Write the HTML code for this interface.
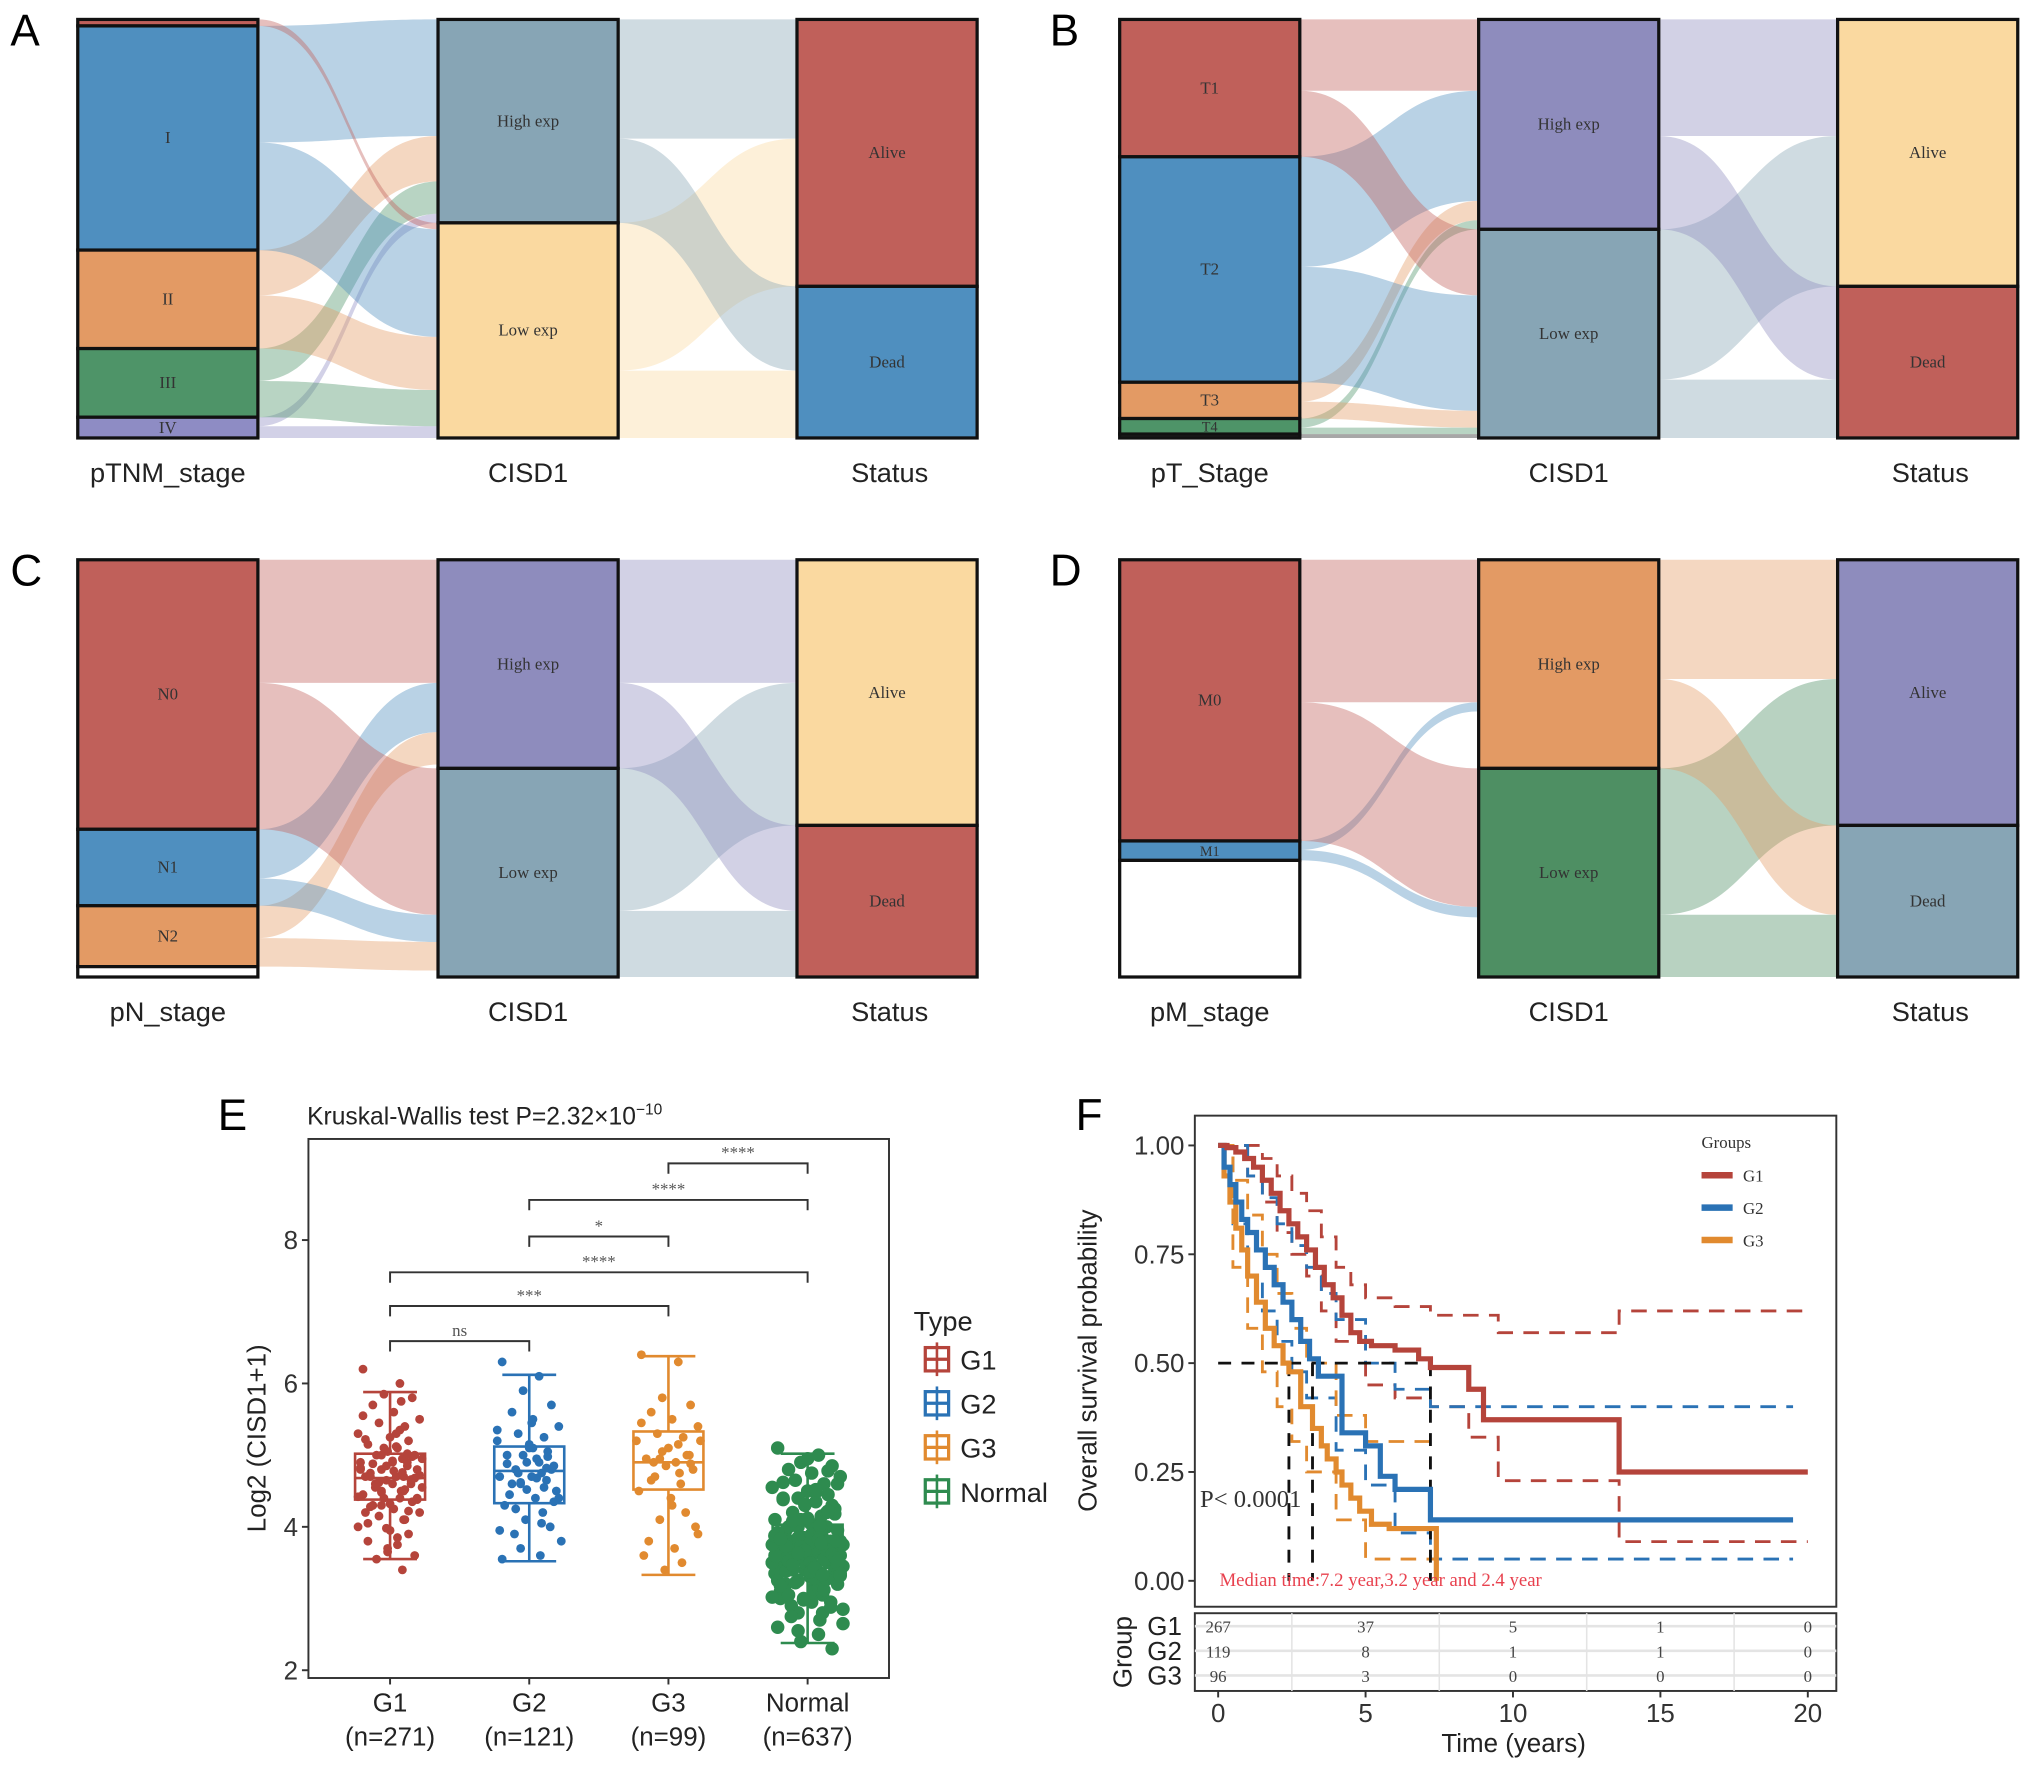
<!DOCTYPE html>
<html><head><meta charset="utf-8">
<style>
html,body{margin:0;padding:0;background:#fff;}
svg{display:block;}
text{font-family:"Liberation Sans",sans-serif;}
.serif{font-family:"Liberation Serif",serif;}
</style></head>
<body>
<svg id="fig" width="2032" height="1770" viewBox="0 0 1568 1366" preserveAspectRatio="none" xmlns="http://www.w3.org/2000/svg">
<rect x="0" y="0" width="1568" height="1366" fill="#fff"/>
</svg>
<script>
// ---------------- Alluvial data ----------------
const alluvA_col1 = ['', 'I', 'II', 'III', 'IV'];
const alluvA_col1Colors = ['#c0605a', '#4f8fbf', '#e39a64', '#4e9468', '#8e8cc4'];
const alluvA_flow1 = [[0,5],[90,83],[35,41],[25,28],[7,9]];
const alluvA_col2Colors = ['#87a5b5', '#fad9a0'];
const alluvA_flow2 = [[92,65],[114,52]];
const alluvA_col3Colors = ['#c0605a', '#4f8fbf'];

const alluvB_col1 = ['T1', 'T2', 'T3', 'T4', ''];
const alluvB_col1Colors = ['#c0605a', '#4f8fbf', '#e39a64', '#4e9468', '#222222'];
const alluvB_flow1 = [[55,51],[85,89],[15,13],[7,5],[0,3]];
const alluvB_col2Colors = ['#8e8cbd', '#87a5b5'];
const alluvB_flow2 = [[90,72],[116,45]];
const alluvB_col3Colors = ['#fad9a0', '#c0605a'];

const alluvC_col1 = ['N0', 'N1', 'N2', ''];
const alluvC_col1Colors = ['#c0605a', '#4f8fbf', '#e39a64', '#ffffff'];
const alluvC_flow1 = [[95,113],[38,21],[25,22],[3,5]];
const alluvC_col2Colors = ['#8e8cbd', '#87a5b5'];
const alluvC_flow2 = [[95,66],[110,51]];
const alluvC_col3Colors = ['#fad9a0', '#c0605a'];

const alluvD_col1 = ['M0', 'M1', ''];
const alluvD_col1Colors = ['#c0605a', '#4f8fbf', '#ffffff'];
const alluvD_flow1 = [[110,107],[7,8],[44,46]];
const alluvD_col2Colors = ['#e39a64', '#4e8f63'];
const alluvD_flow2 = [[92,69],[113,48]];
const alluvD_col3Colors = ['#8e8cbd', '#87a5b5'];

const col2Names = ['High exp', 'Low exp'];
const col3Names = ['Alive', 'Dead'];

// ---------------- Boxplot data (panel E) ----------------
const boxGroups = ['G1', 'G2', 'G3', 'Normal'];
const boxCounts = ['(n=271)', '(n=121)', '(n=99)', '(n=637)'];
const boxLow = [3.55, 3.52, 3.33, 2.38];
const boxQ1 = [4.38, 4.33, 4.52, 3.33];
const boxMed = [4.68, 4.78, 4.90, 3.60];
const boxQ3 = [5.02, 5.12, 5.33, 4.03];
const boxHigh = [5.88, 6.12, 6.38, 5.02];
const ptsG1 = [6.2,6.0,5.85,5.8,5.7,5.6,5.5,5.45,5.4,5.3,5.25,5.2,5.15,5.1,5.05,5.0,5.0,4.95,4.9,4.9,4.85,4.8,4.8,4.75,4.7,4.7,4.7,4.65,4.6,4.6,4.55,4.5,4.5,4.45,4.4,4.4,4.35,4.3,4.25,4.2,4.15,4.1,4.0,3.95,3.9,3.8,3.75,3.7,3.6,3.55,3.4,4.8,4.6,4.9,5.0,4.4,4.7,5.3,4.2,4.5,4.85,4.65,4.55,4.95,4.3,5.75,5.55,5.35,5.1,4.98,4.88,4.78,4.72,4.62,4.52,4.42,4.32,4.22,4.05,3.85,3.65,4.68,4.58,4.76,4.82,4.92,5.02,4.48,4.38,4.28,5.12,5.22,4.1,3.98,4.66];
const ptsG2 = [6.3,6.1,5.9,5.7,5.6,5.5,5.4,5.3,5.25,5.2,5.1,5.05,5.0,4.95,4.9,4.85,4.8,4.75,4.7,4.7,4.65,4.6,4.5,4.45,4.4,4.3,4.2,4.1,4.0,3.9,3.8,3.7,3.6,3.55,4.9,5.0,4.8,4.6,5.1,4.4,4.75,4.55,5.35,5.15,4.98,4.88,4.68,4.52,4.35,4.25,4.05,3.95,5.45,4.82,4.62];
const ptsG3 = [6.4,6.3,5.8,5.7,5.6,5.5,5.4,5.3,5.25,5.2,5.1,5.0,4.95,4.9,4.85,4.8,4.7,4.6,4.5,4.4,4.2,4.1,4.0,3.8,3.7,3.6,3.5,3.4,5.0,4.9,5.2,4.95,4.75,5.45,5.15,5.05,4.88,4.65,4.3,3.9];
const ptsNormal = [5.1,5.0,4.9,4.85,4.8,4.75,4.7,4.65,4.6,4.55,4.5,4.45,4.4,4.35,4.3,4.25,4.2,4.15,4.1,4.05,4.0,4.0,3.95,3.95,3.9,3.9,3.85,3.85,3.8,3.8,3.75,3.75,3.7,3.7,3.7,3.65,3.65,3.6,3.6,3.6,3.55,3.55,3.5,3.5,3.5,3.45,3.45,3.4,3.4,3.4,3.35,3.35,3.3,3.3,3.25,3.2,3.2,3.15,3.1,3.05,3.0,2.95,2.9,2.85,2.8,2.7,2.6,2.5,2.4,2.3,4.0,3.9,3.8,3.7,3.6,3.5,3.4,3.3,3.6,3.7,3.5,3.8,3.4,3.9,3.6,3.5,4.2,4.4,4.6,3.2,3.1,3.0,2.8,3.65,3.55,3.75,3.45,3.85,3.95,3.25,3.15,4.1,4.3,3.05,2.95,3.35,3.65,3.55,3.75,4.95,4.78,4.62,4.48,4.32,4.18,4.08,3.98,3.88,3.78,3.68,3.58,3.48,3.38,3.28,3.18,3.08,2.98,2.88,2.75,2.65,2.55,4.02,3.92,3.82,3.72,3.62,3.52,3.42,3.32,3.22,3.12,3.02,4.12,4.22,4.38,4.52,3.67,3.57,3.47,3.77,3.87,3.37,3.27,3.63,3.53,3.73,3.43,3.83,3.33];
const boxYTicks = [2, 4, 6, 8];
const sigPairs = [[0,1],[0,2],[0,3],[1,2],[1,3],[2,3]];
const sigLabels = ['ns','***','****','*','****','****'];
const sigLevels = [6.59, 7.08, 7.55, 8.05, 8.56, 9.07];

// ---------------- KM data (panel F) ----------------
const kmG1T = [0,0.3,0.6,0.9,1.2,1.5,1.8,2.1,2.4,2.7,3.0,3.3,3.6,3.9,4.2,4.5,4.8,5.2,6,6.8,7.2,8.5,9,13.6,20];
const kmG1S = [1,0.995,0.985,0.97,0.95,0.92,0.89,0.85,0.82,0.79,0.76,0.72,0.68,0.65,0.61,0.57,0.55,0.54,0.53,0.51,0.49,0.44,0.37,0.25,0.25];
const kmG2T = [0,0.2,0.4,0.6,0.8,1,1.3,1.6,1.9,2.2,2.5,2.8,3.1,3.4,4.2,5,5.5,6,7.2,19.5];
const kmG2S = [1,0.95,0.91,0.87,0.83,0.80,0.76,0.72,0.68,0.64,0.60,0.55,0.51,0.47,0.34,0.31,0.24,0.21,0.14,0.14];
const kmG3T = [0,0.2,0.4,0.6,0.8,1,1.3,1.6,1.9,2.2,2.4,2.8,3.2,3.5,3.7,4.0,4.2,4.5,4.8,5.2,5.8,7.2,7.4];
const kmG3S = [1,0.93,0.87,0.81,0.76,0.70,0.64,0.58,0.54,0.50,0.48,0.40,0.35,0.31,0.28,0.25,0.22,0.19,0.16,0.13,0.12,0.12,0.0];
const ciG1UpT = [0,1,1.5,2,2.5,3,3.5,4,4.5,5,6,7.2,9.5,13.6,20];
const ciG1UpS = [1,1,0.97,0.93,0.89,0.85,0.79,0.72,0.68,0.65,0.63,0.61,0.57,0.62,0.62];
const ciG1LoT = [0,1,1.5,2,2.5,3,3.5,4,5,6,7.2,8.5,9.5,13.6,20];
const ciG1LoS = [1,0.93,0.87,0.80,0.75,0.70,0.62,0.55,0.45,0.42,0.40,0.33,0.23,0.09,0.09];
const ciG2UpT = [0,1,1.5,2,2.5,3,3.5,4,5,6,7.2,19.5];
const ciG2UpS = [1,0.93,0.88,0.82,0.77,0.72,0.66,0.60,0.50,0.44,0.40,0.40];
const ciG2LoT = [0,0.5,1,1.5,2,2.5,3,4,5,6,7.2,19.5];
const ciG2LoS = [1,0.82,0.70,0.62,0.55,0.48,0.42,0.30,0.22,0.11,0.05,0.05];
const ciG3UpT = [0,0.5,1,1.5,2,2.5,3,4,5,7.2];
const ciG3UpS = [1,0.92,0.84,0.75,0.66,0.58,0.50,0.38,0.32,0.32];
const ciG3LoT = [0,0.5,1,1.5,2,2.5,3,4,5,7.4];
const ciG3LoS = [1,0.72,0.58,0.48,0.40,0.32,0.25,0.14,0.05,0.05];
const medians = [7.2, 3.2, 2.4];
const kmXTicks = [0,5,10,15,20];
const kmYTicks = [0,0.25,0.5,0.75,1.0];
const kmYTickLabels = ['0.00','0.25','0.50','0.75','1.00'];
const riskG1 = [267,37,5,1,0];
const riskG2 = [119,8,1,1,0];
const riskG3 = [96,3,0,0,0];

// ---------------- helpers ----------------
const NS = 'http://www.w3.org/2000/svg';
const svg = document.getElementById('fig');
function mk(tag, attrs, parent) {
  const el = document.createElementNS(NS, tag);
  for (const k in attrs) el.setAttribute(k, attrs[k]);
  (parent || svg).appendChild(el);
  return el;
}
function txt(s, attrs, parent) {
  const el = mk('text', attrs, parent);
  el.textContent = s;
  return el;
}

// ---------------- alluvial drawing ----------------
function drawAlluvial(key, letter, lx, ly, colX, top, H, names1, colors1, flow1, colors2, flow2, colors3, axisNames) {
  const g = mk('g', {});
  
  
  const L = txt(letter, {x: lx, y: ly, 'font-size': 34}, g);
  
  
  const W = 139;
  const total = flow1.reduce((a, r) => a + r[0] + r[1], 0);
  const k = H / total;
  const s1 = flow1.map(r => r[0] + r[1]);
  const s2 = [0, 1].map(j => flow1.reduce((a, r) => a + r[j], 0));
  const s3 = [0, 1].map(j => flow2.reduce((a, r) => a + r[j], 0));
  function stack(sizes) { let y = top; return sizes.map(s => { const y0 = y; y += s * k; return [y0, y]; }); }
  const r1 = stack(s1), r2 = stack(s2), r3 = stack(s3);
  function band(xa, xb, ya0, ya1, yb0, yb1, color, nm) {
    const xm = (xa + xb) / 2;
    const d = `M${xa},${ya0} C${xm},${ya0} ${xm},${yb0} ${xb},${yb0} L${xb},${yb1} C${xm},${yb1} ${xm},${ya1} ${xa},${ya1} Z`;
    const p = mk('path', {d: d, fill: color, 'fill-opacity': color === '#ffffff' ? 0 : 0.4}, g);
    
    
  }
  const srcOff1 = r1.map(r => r[0]);
  const tgtOff1 = r2.map(r => r[0]);
  for (let j = 0; j < 2; j++) {
    for (let i = 0; i < flow1.length; i++) {
      const h = flow1[i][j] * k;
      if (h <= 0) continue;
      const ya0 = srcOff1[i] + (j === 1 ? flow1[i][0] * k : 0);
      const yb0 = tgtOff1[j];
      tgtOff1[j] += h;
      band(colX[0] + W, colX[1], ya0, ya0 + h, yb0, yb0 + h, colors1[i], 'flow-' + key + '-stage1');
    }
  }
  const tgtOff2 = r3.map(r => r[0]);
  for (let j = 0; j < 2; j++) {
    for (let i = 0; i < 2; i++) {
      const h = flow2[i][j] * k;
      const ya0 = r2[i][0] + (j === 1 ? flow2[i][0] * k : 0);
      const yb0 = tgtOff2[j];
      tgtOff2[j] += h;
      band(colX[1] + W, colX[2], ya0, ya0 + h, yb0, yb0 + h, colors2[i], 'flow-' + key + '-stage2');
    }
  }
  function strata(x, ranges, colors, names, axis) {
    ranges.forEach((r, i) => {
      const rc = mk('rect', {x: x, y: r[0], width: W, height: r[1] - r[0], fill: colors[i], stroke: '#111', 'stroke-width': 2.5}, g);
      
      
      if (names[i]) {
        const fs = (r[1] - r[0]) < 16 ? 11 : 13;
        const t = txt(names[i], {x: x + W / 2, y: (r[0] + r[1]) / 2 + 4, 'text-anchor': 'middle', 'font-size': fs, fill: '#333', class: 'serif'}, g);
        
        
      }
    });
  }
  strata(colX[0], r1, colors1, names1, 'a1');
  strata(colX[1], r2, colors2, col2Names, 'a2');
  strata(colX[2], r3, colors3, col3Names, 'a3');
  const ay = top + H + 34;
  [0, 1, 2].forEach(i => {
    const t = txt(axisNames[i], {x: colX[i] + W / 2 + (i === 2 ? 2 : 0), y: ay, 'text-anchor': 'middle', 'font-size': 21, fill: '#222'}, g);
    
    
  });
}
drawAlluvial('a', 'A', 8, 35, [60, 338, 615], 15, 323, alluvA_col1, alluvA_col1Colors, alluvA_flow1, alluvA_col2Colors, alluvA_flow2, alluvA_col3Colors, ['pTNM_stage', 'CISD1', 'Status']);
drawAlluvial('b', 'B', 810, 35, [864, 1141, 1418], 15, 323, alluvB_col1, alluvB_col1Colors, alluvB_flow1, alluvB_col2Colors, alluvB_flow2, alluvB_col3Colors, ['pT_Stage', 'CISD1', 'Status']);
drawAlluvial('c', 'C', 8, 452, [60, 338, 615], 432, 322, alluvC_col1, alluvC_col1Colors, alluvC_flow1, alluvC_col2Colors, alluvC_flow2, alluvC_col3Colors, ['pN_stage', 'CISD1', 'Status']);
drawAlluvial('d', 'D', 810, 452, [864, 1141, 1418], 432, 322, alluvD_col1, alluvD_col1Colors, alluvD_flow1, alluvD_col2Colors, alluvD_flow2, alluvD_col3Colors, ['pM_stage', 'CISD1', 'Status']);

// ---------------- Panel E ----------------
(function() {
  const g = mk('g', {});
  
  
  const colors = ['#b5443b', '#2a72b5', '#e18a2f', '#2e8b4f'];
  const X0 = 238, X1 = 686, Y0 = 879, Y1 = 1295;
  const yS = v => 1289 - (v - 2) * 55.33;
  const xS = i => 301 + i * 107.4;
  const jitter = [-22,8,-5,18,-14,3,24,-9,12,-26,0,15,-18,6,-2,20,-11,10,-24,2,14,-7,22,-16,5,-20,11,-3,17,-12,26,-7,9];
  let t = txt('E', {x: 168, y: 872, 'font-size': 34}, g);
  
  
  t = txt('', {x: 237, y: 868, 'font-size': 19, fill: '#222'}, g);
  t.innerHTML = 'Kruskal-Wallis test P=2.32×10<tspan dy="-8" font-size="12">−10</tspan>';
  
  
  const frame = mk('rect', {x: X0, y: Y0, width: X1 - X0, height: Y1 - Y0, fill: 'none', stroke: '#333', 'stroke-width': 1.5}, g);
  
  
  boxYTicks.forEach(v => {
    const tk = mk('line', {x1: X0 - 5, x2: X0, y1: yS(v), y2: yS(v), stroke: '#333', 'stroke-width': 1.5}, g);
    
    
    const l = txt(String(v), {x: X0 - 8, y: yS(v) + 7, 'text-anchor': 'end', 'font-size': 20, fill: '#333'}, g);
    
    
  });
  const yt = txt('Log2 (CISD1+1)', {x: 0, y: 0, 'text-anchor': 'middle', 'font-size': 20, fill: '#222', transform: 'translate(205,1110) rotate(-90)'}, g);
  
  
  const pts = [ptsG1, ptsG2, ptsG3, ptsNormal];
  boxGroups.forEach((nm, i) => {
    const cx = xS(i), c = colors[i], hw = 27;
    const wh = mk('line', {x1: cx, x2: cx, y1: yS(boxLow[i]), y2: yS(boxHigh[i]), stroke: c, 'stroke-width': 2}, g);
    
    
    [boxLow[i], boxHigh[i]].forEach(v => {
      const cap = mk('line', {x1: cx - hw / 1.3, x2: cx + hw / 1.3, y1: yS(v), y2: yS(v), stroke: c, 'stroke-width': 2}, g);
      
      
    });
    const bx = mk('rect', {x: cx - hw, y: yS(boxQ3[i]), width: hw * 2, height: yS(boxQ1[i]) - yS(boxQ3[i]), fill: '#fff', stroke: c, 'stroke-width': 2}, g);
    
    
    const md = mk('line', {x1: cx - hw, x2: cx + hw, y1: yS(boxMed[i]), y2: yS(boxMed[i]), stroke: c, 'stroke-width': 2}, g);
    
    
    const r = i === 3 ? 5.2 : 3.4;
    pts[i].forEach((v, j) => {
      const p = mk('circle', {cx: cx + jitter[j % jitter.length] * (i === 3 ? 1.05 : 0.95), cy: yS(v), r: r, fill: c}, g);
      
      
    });
    const tk = mk('line', {x1: cx, x2: cx, y1: Y1, y2: Y1 + 5, stroke: '#333', 'stroke-width': 1.5}, g);
    
    
    const l1 = txt(nm, {x: cx, y: 1321, 'text-anchor': 'middle', 'font-size': 20, fill: '#222'}, g);
    
    
    const l2 = txt(boxCounts[i], {x: cx, y: 1347, 'text-anchor': 'middle', 'font-size': 20, fill: '#222'}, g);
    
    
  });
  sigPairs.forEach((pr, i) => {
    const y = yS(sigLevels[i]), xa = xS(pr[0]), xb = xS(pr[1]);
    const br = mk('path', {d: `M${xa},${y + 8} V${y} H${xb} V${y + 8}`, fill: 'none', stroke: '#333', 'stroke-width': 1.5}, g);
    
    
    const l = txt(sigLabels[i], {x: (xa + xb) / 2, y: y - 4, 'text-anchor': 'middle', 'font-size': 13, fill: '#555', class: 'serif'}, g);
    
    
  });
  const lt = txt('Type', {x: 705, y: 1027, 'font-size': 21, fill: '#222'}, g);
  
  
  boxGroups.forEach((nm, i) => {
    const y = 1049 + i * 34, c = colors[i];
    const ic = mk('rect', {x: 714, y: y - 9, width: 18, height: 18, fill: '#fff', stroke: c, 'stroke-width': 2.5}, g);
    
    
    mk('line', {x1: 714, x2: 732, y1: y, y2: y, stroke: c, 'stroke-width': 2.5}, g);
    mk('line', {x1: 723, x2: 723, y1: y - 13, y2: y + 13, stroke: c, 'stroke-width': 2}, g);
    const l = txt(nm, {x: 741, y: y + 8, 'font-size': 21, fill: '#222'}, g);
    
    
  });
})();

// ---------------- Panel F ----------------
(function() {
  const g = mk('g', {});
  
  
  const X0 = 922, X1 = 1417, Y0 = 861, Y1 = 1240;
  const xS = t => 940 + t * 22.75;
  const yS = s => 1220 - s * 336;
  let t = txt('F', {x: 830, y: 872, 'font-size': 34}, g);
  
  
  const frame = mk('rect', {x: X0, y: Y0, width: X1 - X0, height: Y1 - Y0, fill: '#fff', stroke: '#333', 'stroke-width': 1.5}, g);
  
  
  kmYTicks.forEach((v, i) => {
    const tk = mk('line', {x1: X0 - 5, x2: X0, y1: yS(v), y2: yS(v), stroke: '#333', 'stroke-width': 1.5}, g);
    
    
    const l = txt(kmYTickLabels[i], {x: X0 - 8, y: yS(v) + 7, 'text-anchor': 'end', 'font-size': 20, fill: '#333'}, g);
    
    
  });
  const yt = txt('Overall survival probability', {x: 0, y: 0, 'text-anchor': 'middle', 'font-size': 20, fill: '#222', transform: 'translate(846,1050) rotate(-90)'}, g);
  
  
  function step(T, S, color, w, dash, nm) {
    let d = `M${xS(T[0])},${yS(S[0])}`;
    for (let i = 1; i < T.length; i++) d += ` H${xS(T[i])} V${yS(S[i])}`;
    const p = mk('path', {d: d, fill: 'none', stroke: color, 'stroke-width': w, 'stroke-dasharray': dash || 'none'}, g);
    
    
  }
  const cR = '#b5443b', cB = '#2a72b5', cO = '#e18a2f';
  step(ciG1UpT, ciG1UpS, cR, 2.2, '12,8', 'ci-upper-g1');
  step(ciG1LoT, ciG1LoS, cR, 2.2, '12,8', 'ci-lower-g1');
  step(ciG2UpT, ciG2UpS, cB, 2.2, '12,8', 'ci-upper-g2');
  step(ciG2LoT, ciG2LoS, cB, 2.2, '12,8', 'ci-lower-g2');
  step(ciG3UpT, ciG3UpS, cO, 2.2, '12,8', 'ci-upper-g3');
  step(ciG3LoT, ciG3LoS, cO, 2.2, '12,8', 'ci-lower-g3');
  const mh = mk('line', {x1: xS(0), x2: xS(medians[0]), y1: yS(0.5), y2: yS(0.5), stroke: '#111', 'stroke-width': 2.2, 'stroke-dasharray': '10,8'}, g);
  
  
  medians.forEach(m => {
    const mv = mk('line', {x1: xS(m), x2: xS(m), y1: yS(0.5), y2: yS(0), stroke: '#111', 'stroke-width': 2.2, 'stroke-dasharray': '10,8'}, g);
    
    
  });
  step(kmG3T, kmG3S, cO, 4, null, 'km-curve-g3');
  step(kmG2T, kmG2S, cB, 4, null, 'km-curve-g2');
  step(kmG1T, kmG1S, cR, 4, null, 'km-curve-g1');
  const pv = txt('P< 0.0001', {x: 926, y: 1163, 'font-size': 19, fill: '#333', class: 'serif'}, g);
  
  
  const mt = txt('Median time:7.2 year,3.2 year and 2.4 year', {x: 941, y: 1224, 'font-size': 14.5, fill: '#e8414e', class: 'serif'}, g);
  
  
  const lg = txt('Groups', {x: 1313, y: 886, 'font-size': 13, fill: '#333', class: 'serif'}, g);
  
  
  [['G1', cR], ['G2', cB], ['G3', cO]].forEach((e, i) => {
    const y = 907 + i * 25;
    const ln = mk('line', {x1: 1313, x2: 1337, y1: y, y2: y, stroke: e[1], 'stroke-width': 5}, g);
    
    
    const l = txt(e[0], {x: 1345, y: y + 5, 'font-size': 13, fill: '#333', class: 'serif'}, g);
    
    
  });
  const RY0 = 1245, RY1 = 1305;
  const rt = mk('rect', {x: X0, y: RY0, width: X1 - X0, height: RY1 - RY0, fill: '#fff', stroke: '#333', 'stroke-width': 1.5}, g);
  
  
  [2.5, 7.5, 12.5, 17.5].forEach(v => {
    mk('line', {x1: xS(v), x2: xS(v), y1: RY0, y2: RY1, stroke: '#e4e4e4', 'stroke-width': 1.2}, g);
  });
  const rows = [riskG1, riskG2, riskG3], rowN = ['G1', 'G2', 'G3'];
  rows.forEach((r, i) => {
    const y = 1255 + i * 19;
    mk('line', {x1: X0, x2: X1, y1: y, y2: y, stroke: '#e4e4e4', 'stroke-width': 2}, g);
    const rl = txt(rowN[i], {x: 912, y: y + 7, 'text-anchor': 'end', 'font-size': 20, fill: '#222'}, g);
    
    
    r.forEach((v, j) => {
      const c = txt(String(v), {x: xS(kmXTicks[j]), y: y + 5, 'text-anchor': 'middle', 'font-size': 13, fill: '#444', class: 'serif'}, g);
      
      
    });
  });
  const gt = txt('Group', {x: 0, y: 0, 'text-anchor': 'middle', 'font-size': 20, fill: '#222', transform: 'translate(873,1275) rotate(-90)'}, g);
  
  
  kmXTicks.forEach(v => {
    const tk = mk('line', {x1: xS(v), x2: xS(v), y1: RY1, y2: RY1 + 5, stroke: '#333', 'stroke-width': 1.5}, g);
    
    
    const l = txt(String(v), {x: xS(v), y: 1329, 'text-anchor': 'middle', 'font-size': 20, fill: '#333'}, g);
    
    
  });
  const xt = txt('Time (years)', {x: 1168, y: 1352, 'text-anchor': 'middle', 'font-size': 20, fill: '#222'}, g);
  
  
})();
</script>
</body></html>
